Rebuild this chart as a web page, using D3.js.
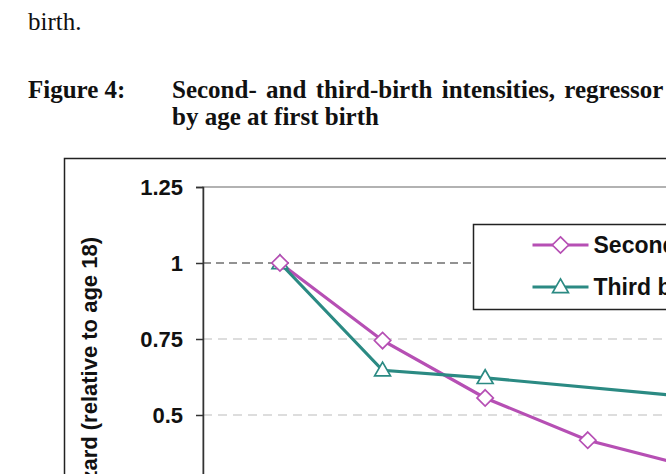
<!DOCTYPE html>
<html>
<head>
<meta charset="utf-8">
<script src="https://cdn.jsdelivr.net/npm/d3@7"></script>
<style>
  body { margin: 0; background: #fff; }
  svg { display: block; }
</style>
</head>
<body>
<div id="my_dataviz"></div>
<script>
// data
var ages = [18, 22, 26, 30, 34];
var secondBirth = [1.0, 0.745, 0.556, 0.417, 0.33];
var thirdAges = [18, 22, 26, 34];
var thirdBirth = [1.0, 0.647, 0.622, 0.56];
var yTicks = [0.5, 0.75, 1, 1.25];
var seriesNames = ["Second birth", "Third birth"];

var W = 666, H = 474;

var svg = d3.select("#my_dataviz")
  .append("svg")
    .attr("width", W)
    .attr("height", H);

// page text above the chart
svg.append("text")
  .attr("x", 28).attr("y", 30)
  .style("font-family", "'Liberation Serif', 'Times New Roman', serif")
  .style("font-size", "25px")
  .style("fill", "#111")
  .text("birth.");

var title = svg.append("g")
  .style("font-family", "'Liberation Serif', 'Times New Roman', serif")
  .style("font-size", "25px")
  .style("font-weight", "bold")
  .style("fill", "#111");
title.append("text").attr("x", 28).attr("y", 98).text("Figure 4:");
// first title line is justified in the source, hence the wider word gaps
title.append("text").attr("x", 172).attr("y", 98)
  .style("word-spacing", "3.1px")
  .text("Second- and third-birth intensities, regressor effects");
title.append("text").attr("x", 172).attr("y", 125).text("by age at first birth");

// outer chart frame (runs off the page to the right and bottom)
svg.append("rect")
  .attr("x", 64.5).attr("y", 158.5)
  .attr("width", 800).attr("height", 500)
  .attr("fill", "none")
  .attr("stroke", "#222")
  .attr("stroke-width", 1.5);

// scales
var x = d3.scaleLinear()
  .domain([15, 40])
  .range([203, 203 + 25 * 25.65]);

var y = d3.scaleLinear()
  .domain([0, 1.25])
  .range([567, 187]);

// plot area border
svg.append("rect")
  .attr("x", x(15)).attr("y", y(1.25))
  .attr("width", x(40) - x(15)).attr("height", y(0) - y(1.25))
  .attr("fill", "none")
  .attr("stroke", "#999")
  .attr("stroke-width", 1.5);

// gridlines: 1 is a darker reference line
svg.append("g")
  .selectAll("line")
  .data(yTicks.filter(function(d) { return d < 1.25; }))
  .enter()
  .append("line")
    .attr("x1", x(15)).attr("x2", x(40))
    .attr("y1", function(d) { return y(d); })
    .attr("y2", function(d) { return y(d); })
    .attr("stroke", function(d) { return d == 1 ? "#6f6f6f" : "#d2d2d2"; })
    .attr("stroke-width", 1.5)
    .attr("stroke-dasharray", function(d) { return d == 1 ? "8,5" : "9,6"; });

// Y axis
var yAxis = svg.append("g")
  .attr("transform", "translate(" + x(15) + ",0)")
  .call(d3.axisLeft(y).tickValues(yTicks).tickSize(7).tickPadding(13)
    .tickFormat(function(d) { return d3.format("")(d); }));
yAxis.select(".domain").attr("stroke", "#333").attr("stroke-width", 1.5);
yAxis.selectAll(".tick line").attr("stroke", "#333").attr("stroke-width", 1.5);
yAxis.selectAll(".tick text")
  .style("font-family", "'Liberation Sans', Arial, sans-serif")
  .style("font-size", "22px")
  .style("font-weight", "bold")
  .style("fill", "#111");

// Y axis title
svg.append("text")
  .attr("transform", "translate(97,237) rotate(-90)")
  .attr("text-anchor", "end")
  .style("font-family", "'Liberation Sans', Arial, sans-serif")
  .style("font-size", "22px")
  .style("font-weight", "bold")
  .style("fill", "#111")
  .text("Hazard (relative to age 18)");

var myColor = {"Second birth": "#b64fb4", "Third birth": "#2b8a83"};

var dataReady = [
  {name: "Second birth", values: ages.map(function(a, i) { return {age: a, value: secondBirth[i]}; })},
  {name: "Third birth", values: thirdAges.map(function(a, i) { return {age: a, value: thirdBirth[i]}; })}
];

var diamond = d3.symbol().type(d3.symbolDiamond2).size(170);
var triangle = d3.symbol().type(d3.symbolTriangle2).size(180);

function marker(g, name) {
  g.append("path")
    .attr("d", name == "Second birth" ? diamond() : triangle())
    .attr("fill", "#fff")
    .attr("stroke", myColor[name])
    .attr("stroke-width", 1.7);
}

var plot = svg.append("g");

dataReady.forEach(function(dt) {
  plot.append("path")
    .datum(dt.values)
    .attr("fill", "none")
    .attr("stroke", myColor[dt.name])
    .attr("stroke-width", 3.2)
    .attr("d", d3.line()
      .x(function(d) { return x(d.age); })
      .y(function(d) { return y(d.value); })
    );
});

// markers (third birth drawn first so the second-birth diamond sits under the triangle at 18)
dataReady.slice().reverse().forEach(function(dt) {
  dt.values.forEach(function(d, i) {
    if (dt.name == "Third birth" && d.age > 26) return; // no marker visible past 26
    var g = plot.append("g")
      .attr("transform", "translate(" + x(d.age) + "," + (y(d.value) + (dt.name == "Third birth" ? 1 : 0)) + ")");
    marker(g, dt.name);
  });
});

// legend
var legend = svg.append("g").attr("transform", "translate(473.5,224.5)");
legend.append("rect")
  .attr("width", 300).attr("height", 85)
  .attr("fill", "#fff")
  .attr("stroke", "#222")
  .attr("stroke-width", 1.5);

seriesNames.forEach(function(name, i) {
  var row = legend.append("g").attr("transform", "translate(0," + (20.5 + i * 42) + ")");
  row.append("line")
    .attr("x1", 59).attr("x2", 115)
    .attr("stroke", myColor[name])
    .attr("stroke-width", 3.2);
  var m = row.append("g").attr("transform", "translate(87," + (name == "Third birth" ? 1 : 0) + ")");
  marker(m, name);
  row.append("text")
    .attr("x", 120)
    .attr("dy", "0.35em")
    .style("font-family", "'Liberation Sans', Arial, sans-serif")
    .style("font-size", "23px")
    .style("font-weight", "bold")
    .style("fill", "#111")
    .text(name);
});
</script>
</body>
</html>
